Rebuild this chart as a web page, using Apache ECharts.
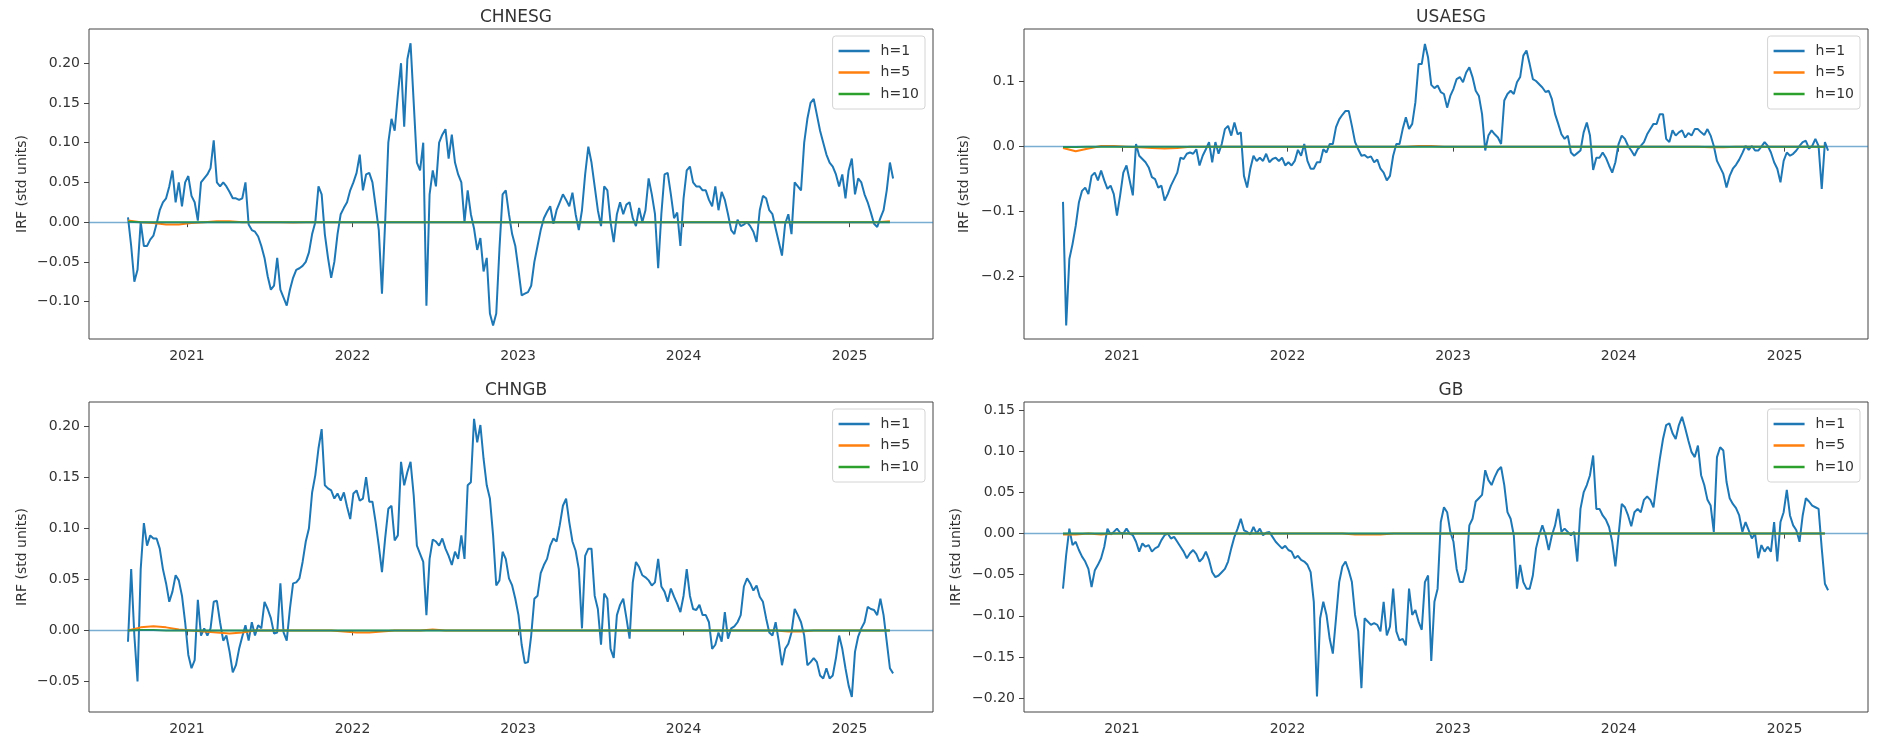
<!DOCTYPE html>
<html><head><meta charset="utf-8">
<script src="https://cdn.jsdelivr.net/npm/echarts@6/dist/echarts.min.js"></script>
<style>html,body{margin:0;padding:0;background:#fff}#c{width:1878px;height:744px}</style>
</head><body><div id="c"></div>
<script>
// ---------------- data ----------------
const startDate = '2020-08-24';          // first weekly observation (h=1 weekly, h=5/h=10 every 4 weeks)
const panelNames = ['CHNESG', 'USAESG', 'CHNGB', 'GB'];
const seriesNames = ['h=1', 'h=5', 'h=10'];
const xTickYears = [2021, 2022, 2023, 2024, 2025];
const yTicksCHNESG = [-0.10, -0.05, 0.00, 0.05, 0.10, 0.15, 0.20];
const yTicksUSAESG = [-0.2, -0.1, 0.0, 0.1];
const yTicksCHNGB = [-0.05, 0.00, 0.05, 0.10, 0.15, 0.20];
const yTicksGB = [-0.20, -0.15, -0.10, -0.05, 0.00, 0.05, 0.10, 0.15];

const chnesgH1 = [
0.006,-0.03,-0.075,-0.06,0.0,-0.03,-0.03,-0.022,-0.017,-0.002,
0.015,0.025,0.03,0.045,0.065,0.025,0.05,0.02,0.05,0.058,
0.033,0.025,0.002,0.05,0.055,0.06,0.068,0.103,0.05,0.045,
0.05,0.045,0.038,0.03,0.03,0.028,0.03,0.05,-0.003,-0.01,
-0.012,-0.018,-0.03,-0.045,-0.068,-0.085,-0.08,-0.045,-0.085,-0.095,
-0.105,-0.085,-0.07,-0.06,-0.058,-0.055,-0.05,-0.038,-0.015,0.0,
0.045,0.035,-0.015,-0.045,-0.07,-0.05,-0.015,0.01,0.018,0.025,
0.04,0.05,0.062,0.085,0.04,0.06,0.062,0.05,0.02,-0.01,
-0.09,0.0,0.1,0.13,0.115,0.16,0.2,0.12,0.205,0.225,
0.15,0.075,0.065,0.1,-0.105,0.035,0.065,0.045,0.1,0.11,
0.117,0.08,0.11,0.075,0.06,0.05,0.0,0.04,0.01,-0.008,
-0.035,-0.02,-0.062,-0.045,-0.115,-0.13,-0.115,-0.034,0.035,0.04,
0.01,-0.015,-0.03,-0.06,-0.092,-0.09,-0.088,-0.08,-0.05,-0.03,
-0.01,0.005,0.013,0.02,-0.002,0.015,0.025,0.035,0.028,0.02,
0.037,0.01,-0.01,0.015,0.06,0.095,0.075,0.045,0.015,-0.005,
0.045,0.04,0.0,-0.025,0.01,0.025,0.01,0.022,0.025,0.005,
-0.005,0.018,0.0,0.015,0.055,0.035,0.01,-0.058,0.01,0.06,
0.062,0.035,0.005,0.012,-0.03,0.03,0.065,0.07,0.05,0.045,
0.045,0.04,0.04,0.028,0.02,0.045,0.015,0.038,0.028,0.01,
-0.01,-0.015,0.003,-0.005,-0.003,0.0,-0.005,-0.012,-0.025,0.015,
0.033,0.03,0.015,0.01,-0.008,-0.025,-0.042,-0.002,0.01,-0.015,
0.05,0.045,0.04,0.1,0.13,0.15,0.155,0.135,0.115,0.1,
0.085,0.075,0.07,0.06,0.045,0.06,0.03,0.065,0.08,0.035,
0.055,0.05,0.035,0.025,0.012,-0.002,-0.006,0.005,0.015,0.04,
0.075,0.055];

const usaesgH1 = [
-0.085,-0.275,-0.173,-0.15,-0.122,-0.086,-0.068,-0.063,-0.073,-0.045,
-0.04,-0.052,-0.037,-0.052,-0.065,-0.06,-0.073,-0.106,-0.075,-0.04,
-0.029,-0.052,-0.075,0.004,-0.014,-0.019,-0.024,-0.032,-0.047,-0.05,
-0.063,-0.06,-0.083,-0.073,-0.06,-0.05,-0.04,-0.017,-0.019,-0.011,
-0.009,-0.011,-0.004,-0.029,-0.014,-0.004,0.007,-0.024,0.007,-0.011,
0.004,0.027,0.032,0.017,0.037,0.019,0.022,-0.045,-0.063,-0.034,
-0.014,-0.022,-0.017,-0.022,-0.011,-0.024,-0.019,-0.017,-0.022,-0.017,
-0.029,-0.024,-0.029,-0.022,-0.005,-0.014,0.004,-0.022,-0.034,-0.034,
-0.024,-0.024,-0.004,-0.009,0.004,0.004,0.03,0.042,0.049,0.055,
0.055,0.032,0.007,-0.004,-0.014,-0.013,-0.017,-0.015,-0.024,-0.02,
-0.034,-0.04,-0.052,-0.045,-0.014,0.004,0.004,0.027,0.045,0.027,
0.035,0.068,0.127,0.127,0.158,0.137,0.095,0.09,0.094,0.084,
0.081,0.06,0.078,0.089,0.104,0.107,0.099,0.114,0.122,0.107,
0.086,0.078,0.05,-0.006,0.017,0.025,0.019,0.014,0.004,0.071,
0.081,0.086,0.081,0.099,0.107,0.14,0.148,0.127,0.104,0.101,
0.096,0.091,0.084,0.086,0.073,0.05,0.035,0.019,0.012,0.017,
-0.009,-0.014,-0.01,-0.006,0.022,0.037,0.017,-0.036,-0.017,-0.017,
-0.009,-0.017,-0.029,-0.04,-0.024,0.004,0.017,0.012,0.001,-0.006,
-0.014,-0.004,0.001,0.007,0.019,0.027,0.035,0.035,0.05,0.05,
0.012,0.007,0.025,0.017,0.022,0.025,0.014,0.021,0.017,0.027,
0.027,0.022,0.018,0.027,0.017,0.001,-0.022,-0.032,-0.042,-0.063,
-0.045,-0.034,-0.028,-0.02,-0.01,0.001,-0.005,0.001,-0.006,-0.006,
0.0,0.007,0.001,-0.009,-0.024,-0.034,-0.055,-0.022,-0.009,-0.014,
-0.011,-0.006,0.001,0.007,0.009,-0.003,0.001,0.012,0.001,-0.065,
0.007,-0.006];

const chngbH1 = [
-0.011,0.06,-0.005,-0.05,0.06,0.105,0.083,0.093,0.09,0.09,
0.08,0.06,0.046,0.028,0.038,0.054,0.049,0.034,0.008,-0.024,
-0.037,-0.029,0.03,-0.005,0.002,-0.005,0.002,0.028,0.029,0.008,
-0.01,-0.005,-0.021,-0.041,-0.034,-0.018,-0.006,0.005,-0.01,0.008,
-0.005,0.005,0.002,0.028,0.021,0.012,-0.003,-0.002,0.046,-0.002,
-0.01,0.021,0.046,0.047,0.051,0.067,0.087,0.1,0.135,0.152,
0.178,0.197,0.142,0.139,0.137,0.129,0.134,0.127,0.135,0.121,
0.109,0.134,0.137,0.127,0.129,0.15,0.126,0.126,0.106,0.083,
0.057,0.09,0.119,0.122,0.088,0.093,0.165,0.142,0.155,0.165,
0.132,0.083,0.075,0.067,0.015,0.07,0.089,0.087,0.083,0.09,
0.08,0.073,0.064,0.077,0.07,0.093,0.07,0.142,0.145,0.207,
0.184,0.201,0.168,0.142,0.129,0.093,0.044,0.049,0.077,0.07,
0.051,0.044,0.031,0.015,-0.014,-0.032,-0.031,-0.005,0.031,0.034,
0.056,0.064,0.07,0.083,0.09,0.087,0.103,0.122,0.129,0.106,
0.087,0.078,0.06,0.002,0.073,0.08,0.08,0.034,0.021,-0.014,
0.036,0.031,-0.018,-0.027,0.015,0.025,0.031,0.012,-0.008,0.047,
0.067,0.062,0.054,0.052,0.049,0.044,0.047,0.07,0.043,0.038,
0.028,0.041,0.033,0.026,0.018,0.034,0.06,0.034,0.021,0.02,
0.025,0.015,0.015,0.008,-0.018,-0.014,-0.002,-0.011,0.018,-0.008,
0.002,0.004,0.008,0.015,0.043,0.051,0.046,0.039,0.044,0.033,
0.028,0.012,-0.002,-0.005,0.008,-0.011,-0.034,-0.018,-0.013,-0.002,
0.021,0.015,0.008,-0.005,-0.034,-0.031,-0.027,-0.031,-0.044,-0.047,
-0.037,-0.047,-0.044,-0.027,-0.005,-0.018,-0.037,-0.054,-0.065,-0.021,
-0.006,0.002,0.008,0.023,0.021,0.02,0.015,0.031,0.015,-0.011,
-0.037,-0.042];

const gbH1 = [
-0.067,-0.026,0.006,-0.014,-0.01,-0.02,-0.028,-0.034,-0.043,-0.065,
-0.045,-0.038,-0.03,-0.016,0.006,-0.001,0.002,0.006,0.001,0.0,
0.006,0.0,-0.002,-0.01,-0.022,-0.012,-0.016,-0.014,-0.022,-0.018,
-0.016,-0.008,-0.002,0.0,-0.006,-0.004,-0.01,-0.016,-0.022,-0.03,
-0.024,-0.02,-0.025,-0.034,-0.03,-0.022,-0.032,-0.047,-0.053,-0.051,
-0.047,-0.043,-0.034,-0.018,-0.004,0.006,0.018,0.004,0.002,-0.001,
0.008,0.0,0.006,-0.002,0.001,0.002,-0.004,-0.01,-0.014,-0.018,
-0.015,-0.02,-0.022,-0.03,-0.027,-0.032,-0.034,-0.038,-0.047,-0.083,
-0.198,-0.103,-0.083,-0.099,-0.128,-0.146,-0.103,-0.059,-0.04,-0.034,
-0.045,-0.059,-0.099,-0.119,-0.188,-0.103,-0.107,-0.111,-0.109,-0.111,
-0.119,-0.083,-0.124,-0.113,-0.067,-0.119,-0.13,-0.128,-0.136,-0.067,
-0.099,-0.093,-0.107,-0.117,-0.059,-0.051,-0.155,-0.083,-0.067,0.014,
0.032,0.026,0.002,-0.01,-0.043,-0.059,-0.059,-0.043,0.01,0.018,
0.039,0.043,0.047,0.077,0.065,0.059,0.069,0.077,0.081,0.059,
0.026,0.018,-0.002,-0.067,-0.038,-0.059,-0.067,-0.067,-0.051,-0.018,
-0.002,0.01,-0.002,-0.02,-0.002,0.01,0.03,0.002,0.006,0.002,
-0.002,0.002,-0.034,0.03,0.05,0.059,0.071,0.095,0.03,0.03,
0.022,0.017,0.008,-0.01,-0.04,-0.002,0.036,0.032,0.022,0.009,
0.026,0.03,0.026,0.041,0.045,0.041,0.032,0.063,0.091,0.115,
0.132,0.134,0.122,0.115,0.132,0.142,0.128,0.113,0.099,0.093,
0.107,0.071,0.059,0.041,0.034,0.002,0.093,0.105,0.101,0.063,
0.043,0.036,0.031,0.022,0.002,0.014,0.004,-0.006,0.0,-0.03,
-0.014,-0.022,-0.016,-0.022,0.014,-0.034,0.014,0.026,0.053,0.022,
0.01,0.004,-0.01,0.022,0.043,0.039,0.034,0.032,0.03,-0.018,
-0.061,-0.069];

// h=5 and h=10: one value every 4 weeks
const chnesgH5 = [
0.002,0.0,-0.001,-0.003,-0.003,-0.001,0.0,0.001,0.001,0.0,
0.0,0.0,0.0,-0.0005,0.0,0.0,0.0,0.0,0.0,0.0,
0.0,0.0,0.0,0.0,0.0,0.0,0.0,0.0,0.0,0.0,
0.0,0.0,0.0,0.0,0.0,0.0,0.0,0.0,0.0,0.0,
0.0,0.0,0.0,0.0,0.0,0.0,0.0,0.0,0.0,0.0,
0.0,0.0,0.0,0.0,0.0,0.0,0.0,0.0,0.0,0.0,
0.001];
const usaesgH5 = [
-0.002,-0.007,-0.003,0.001,0.001,0.0,-0.001,-0.002,-0.003,-0.002,
0.0,0.0,0.0,0.0,0.0,0.0,0.0,0.0,0.0,0.0,
0.0,0.0,0.0,0.0,0.0,0.0,0.0,0.0,0.001,0.001,
0.0,0.0,0.0,0.0,0.0,0.0,0.0,0.0,0.0,0.0,
0.0,0.0,0.0,0.0,0.0,0.0,0.0,0.0,0.0,0.0,
0.0,-0.001,-0.001,0.0,0.0,0.0,0.0,0.0,0.0,0.0,
0.0];
const chngbH5 = [
0.0,0.003,0.004,0.003,0.001,0.0,-0.001,-0.002,-0.003,-0.002,
0.0,0.0,0.0,0.0,0.0,0.0,0.0,-0.001,-0.002,-0.002,
-0.001,0.0,0.0,0.0,0.001,0.0,0.0,0.0,0.0,0.0,
0.0,0.0,0.0,0.0,0.0,0.0,0.0,0.0,0.0,0.0,
0.0,0.0,0.0,0.0,0.0,0.0,0.0,0.0,0.0,0.0,
0.0,0.0,-0.001,-0.001,0.0,0.0,0.0,0.0,0.0,0.0,
0.0];
const gbH5 = [
-0.001,-0.001,0.0,-0.001,0.0,0.0,0.0,0.0,0.0,0.0,
0.0,0.0,0.0,0.0,0.0,0.0,0.0,0.0,0.0,0.0,
0.0,0.0,0.0,-0.001,-0.001,-0.001,0.0,0.0,0.0,0.0,
0.0,0.0,0.0,0.0,0.0,0.0,0.0,0.0,0.0,0.0,
0.0,0.0,0.0,0.0,0.0,0.0,0.0,0.0,0.0,0.0,
0.0,0.0,0.0,0.0,0.0,0.0,0.0,0.0,0.0,0.0,
0.0];
const chnesgH10 = [
0.0005,0.0,0.0,0.0,0.0,0.0,0.0,0.0,0.0,0.0,
0.0,0.0,0.0,0.0,0.0,0.0,0.0,0.0,0.0,0.0,
0.0,0.0,0.0,0.0,0.0,0.0,0.0,0.0,0.0,0.0,
0.0,0.0,0.0,0.0,0.0,0.0,0.0,0.0,0.0,0.0,
0.0,0.0,0.0,0.0,0.0,0.0,0.0,0.0,0.0,0.0,
0.0,0.0,0.0,0.0,0.0,0.0,0.0,0.0,0.0,0.0,
0.0];
const usaesgH10 = [
-0.0005,-0.0005,0.0,0.0,0.0,0.0,0.0,0.0,0.0,0.0,
0.0,0.0,0.0,0.0,0.0,0.0,0.0,0.0,0.0,0.0,
0.0,0.0,0.0,0.0,0.0,0.0,0.0,0.0,0.0,0.0,
0.0,0.0,0.0,0.0,0.0,0.0,0.0,0.0,0.0,0.0,
0.0,0.0,0.0,0.0,0.0,0.0,0.0,0.0,0.0,0.0,
0.0,0.0,0.0,0.0,0.0,0.0,0.0,0.0,0.0,0.0,
0.0];
const chngbH10 = [
0.0,0.0005,0.0005,0.0,0.0,0.0,0.0,0.0,0.0,0.0,
0.0,0.0,0.0,0.0,0.0,0.0,0.0,0.0,0.0,0.0,
0.0,0.0,0.0,0.0,0.0,0.0,0.0,0.0,0.0,0.0,
0.0,0.0,0.0,0.0,0.0,0.0,0.0,0.0,0.0,0.0,
0.0,0.0,0.0,0.0,0.0,0.0,0.0,0.0,0.0,0.0,
0.0,0.0,0.0,0.0,0.0,0.0,0.0,0.0,0.0,0.0,
0.0];
const gbH10 = [
0.0,0.0,0.0,0.0,0.0,0.0,0.0,0.0,0.0,0.0,
0.0,0.0,0.0,0.0,0.0,0.0,0.0,0.0,0.0,0.0,
0.0,0.0,0.0,0.0,0.0,0.0,0.0,0.0,0.0,0.0,
0.0,0.0,0.0,0.0,0.0,0.0,0.0,0.0,0.0,0.0,
0.0,0.0,0.0,0.0,0.0,0.0,0.0,0.0,0.0,0.0,
0.0,0.0,0.0,0.0,0.0,0.0,0.0,0.0,0.0,0.0,
0.0];

// ---------------- chart ----------------
const FONT = 'DejaVu Sans';
const TXT = '#333';
const AX = '#444';
const colors = ['#1f77b4', '#ff7f0e', '#2ca02c'];
const DAY = 86400000;
const t0 = Date.parse(startDate + 'T00:00:00Z');
const weekly = arr => arr.map((v, i) => [t0 + i * 7 * DAY, v]);
const fourWeekly = arr => arr.map((v, i) => [t0 + i * 28 * DAY, v]);
const xMin = Date.UTC(2020, 4, 30), xMax = Date.UTC(2025, 6, 4);
const xTicks = xTickYears.map(y => Date.UTC(y, 0, 1));

const panels = [
  {name: panelNames[0], h1: chnesgH1, h5: chnesgH5, h10: chnesgH10, yMin: -0.147, yMax: 0.243, ticks: yTicksCHNESG, dec: 2, left: 89, top: 29, nameGap: 60},
  {name: panelNames[1], h1: usaesgH1, h5: usaesgH5, h10: usaesgH10, yMin: -0.296, yMax: 0.181, ticks: yTicksUSAESG, dec: 1, left: 1024, top: 29, nameGap: 53},
  {name: panelNames[2], h1: chngbH1, h5: chngbH5, h10: chngbH10, yMin: -0.0798, yMax: 0.2235, ticks: yTicksCHNGB, dec: 2, left: 89, top: 402, nameGap: 60},
  {name: panelNames[3], h1: gbH1, h5: gbH5, h10: gbH10, yMin: -0.217, yMax: 0.160, ticks: yTicksGB, dec: 2, left: 1024, top: 402, nameGap: 61}
];
const W = 844, H = 310;

const option = {
  animation: false,
  backgroundColor: '#fff',
  title: [], grid: [], xAxis: [], yAxis: [], legend: [], series: []
};

panels.forEach((p, k) => {
  option.title.push({
    text: p.name, left: p.left + W / 2, top: p.top - 25, textAlign: 'center',
    textStyle: {fontFamily: FONT, fontSize: 17, fontWeight: 'normal', color: TXT}
  });
  option.grid.push({left: p.left, top: p.top, width: W, height: H, show: true,
    borderColor: AX, borderWidth: 1, backgroundColor: 'rgba(0,0,0,0)'});
  option.xAxis.push({
    type: 'value', gridIndex: k, min: xMin, max: xMax,
    axisLine: {show: false}, splitLine: {show: false},
    axisTick: {show: true, length: 5, lineStyle: {color: AX}, customValues: xTicks},
    axisLabel: {customValues: xTicks, formatter: v => String(new Date(v).getUTCFullYear()),
      fontFamily: FONT, fontSize: 14, color: TXT, margin: 10}
  });
  const fmt = v => {
    let s = (Math.abs(v) < 1e-9 ? 0 : v).toFixed(p.dec);
    return s.replace('-', '\u2212');
  };
  option.yAxis.push({
    type: 'value', gridIndex: k, min: p.yMin, max: p.yMax,
    name: 'IRF (std units)', nameLocation: 'middle', nameGap: p.nameGap,
    nameTextStyle: {fontFamily: FONT, fontSize: 14, color: TXT},
    axisLine: {show: false}, splitLine: {show: false},
    axisTick: {show: true, length: 5, lineStyle: {color: AX}, customValues: p.ticks},
    axisLabel: {customValues: p.ticks, formatter: fmt, fontFamily: FONT, fontSize: 14, color: TXT, margin: 9}
  });
  option.legend.push({
    orient: 'vertical', right: 1878 - (p.left + W - 8), top: p.top + 7,
    data: seriesNames.map((n, j) => ({name: n, icon: 'rect', itemStyle: {color: colors[j]}})),
    itemWidth: 31, itemHeight: 2.5, itemGap: 7.5,
    padding: [8, 6, 8, 6], borderColor: '#d4d4d4', borderWidth: 1, borderRadius: 3,
    backgroundColor: 'rgba(255,255,255,0.85)',
    textStyle: {fontFamily: FONT, fontSize: 14, color: TXT, padding: [0, 0, 0, 6]}
  });
  const sets = [weekly(p.h1), fourWeekly(p.h5), fourWeekly(p.h10)];
  sets.forEach((d, j) => {
    const s = {
      name: seriesNames[j], type: 'line', xAxisIndex: k, yAxisIndex: k,
      data: d, symbol: 'none', showSymbol: false, z: 2 + j,
      lineStyle: {width: 2, color: colors[j]}, itemStyle: {color: colors[j]}
    };
    if (j === 2) {
      s.markLine = {
        silent: true, symbol: ['none', 'none'], label: {show: false},
        lineStyle: {color: 'rgba(31,119,180,0.6)', width: 1.3, type: 'solid'},
        data: [{yAxis: 0}]
      };
    }
    option.series.push(s);
  });
});

const chart = echarts.init(document.getElementById('c'), null, {renderer: 'canvas'});
chart.setOption(option);
</script>
</body></html>
